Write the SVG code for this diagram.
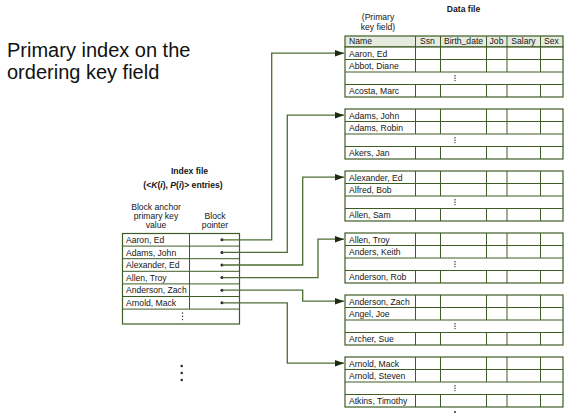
<svg xmlns="http://www.w3.org/2000/svg" width="569" height="415" viewBox="0 0 569 415">
<defs>
<style>
text{font-family:"Liberation Sans",Arial,sans-serif;fill:#161616;font-size:8.6px}
.b{font-weight:bold}
.c{text-anchor:middle}
.title{font-size:20px;fill:#111}
.tb{fill:#fff;stroke:#3f5c25;stroke-width:1.2}
.ln{stroke:#3f5c25;stroke-width:1;fill:none}
.hd{fill:#e6ebdf;stroke:#3f5c25;stroke-width:1.2}
.con{stroke:#4d6d33;stroke-width:1.3;fill:none;marker-end:url(#ah)}
.dot{fill:#1e1e1e}
</style>
<marker id="ah" markerWidth="10" markerHeight="8" refX="9" refY="4" orient="auto" markerUnits="userSpaceOnUse">
<path d="M0,0.8 L9,4 L0,7.2 Z" fill="#1e2a14"/>
</marker>
</defs>
<rect width="569" height="415" fill="#fff"/>

<g id="title">
<text class="title" x="7" y="57">Primary index on the</text>
<text class="title" x="7" y="79">ordering key field</text>
</g>

<g id="data-labels">
<text class="b c" x="463.5" y="11.5">Data file</text>
<text class="c" x="378" y="19.5">(Primary</text>
<text class="c" x="378" y="29.5">key field)</text>
</g>

<g id="data-header">
<rect class="hd" x="345" y="36" width="218" height="11"/>
<path class="ln" d="M415.5,36V47M440.5,36V47M486.5,36V47M507,36V47M540.5,36V47"/>
<text x="349" y="43.6">Name</text>
<text class="c" x="427.5" y="43.6">Ssn</text>
<text class="c" x="463.5" y="43.6">Birth<tspan dy="-0.4">_</tspan><tspan dy="0.4">date</tspan></text>
<text class="c" x="496.5" y="43.6">Job</text>
<text class="c" x="523.5" y="43.6">Salary</text>
<text class="c" x="551.5" y="43.6">Sex</text>
</g>

<g id="block1" transform="translate(0,47)">
<rect class="tb" x="345" y="0" width="218" height="50"/>
<path class="ln" d="M345,12.5H563M345,25H563M345,37.5H563M415.5,0V25M440.5,0V25M486.5,0V25M507,0V25M540.5,0V25M415.5,37.5V50M440.5,37.5V50M486.5,37.5V50M507,37.5V50M540.5,37.5V50"/>
<circle class="dot" cx="455" cy="28.8" r="0.7"/><circle class="dot" cx="455" cy="31.2" r="0.7"/><circle class="dot" cx="455" cy="33.6" r="0.7"/>
<text x="349" y="9.5">Aaron, Ed</text>
<text x="349" y="22">Abbot, Diane</text>
<text x="349" y="47">Acosta, Marc</text>
</g>

<g id="block2" transform="translate(0,109)">
<rect class="tb" x="345" y="0" width="218" height="50"/>
<path class="ln" d="M345,12.5H563M345,25H563M345,37.5H563M415.5,0V25M440.5,0V25M486.5,0V25M507,0V25M540.5,0V25M415.5,37.5V50M440.5,37.5V50M486.5,37.5V50M507,37.5V50M540.5,37.5V50"/>
<circle class="dot" cx="455" cy="28.8" r="0.7"/><circle class="dot" cx="455" cy="31.2" r="0.7"/><circle class="dot" cx="455" cy="33.6" r="0.7"/>
<text x="349" y="9.5">Adams, John</text>
<text x="349" y="22">Adams, Robin</text>
<text x="349" y="47">Akers, Jan</text>
</g>

<g id="block3" transform="translate(0,171)">
<rect class="tb" x="345" y="0" width="218" height="50"/>
<path class="ln" d="M345,12.5H563M345,25H563M345,37.5H563M415.5,0V25M440.5,0V25M486.5,0V25M507,0V25M540.5,0V25M415.5,37.5V50M440.5,37.5V50M486.5,37.5V50M507,37.5V50M540.5,37.5V50"/>
<circle class="dot" cx="455" cy="28.8" r="0.7"/><circle class="dot" cx="455" cy="31.2" r="0.7"/><circle class="dot" cx="455" cy="33.6" r="0.7"/>
<text x="349" y="9.5">Alexander, Ed</text>
<text x="349" y="22">Alfred, Bob</text>
<text x="349" y="47">Allen, Sam</text>
</g>

<g id="block4" transform="translate(0,233)">
<rect class="tb" x="345" y="0" width="218" height="50"/>
<path class="ln" d="M345,12.5H563M345,25H563M345,37.5H563M415.5,0V25M440.5,0V25M486.5,0V25M507,0V25M540.5,0V25M415.5,37.5V50M440.5,37.5V50M486.5,37.5V50M507,37.5V50M540.5,37.5V50"/>
<circle class="dot" cx="455" cy="28.8" r="0.7"/><circle class="dot" cx="455" cy="31.2" r="0.7"/><circle class="dot" cx="455" cy="33.6" r="0.7"/>
<text x="349" y="9.5">Allen, Troy</text>
<text x="349" y="22">Anders, Keith</text>
<text x="349" y="47">Anderson, Rob</text>
</g>

<g id="block5" transform="translate(0,295)">
<rect class="tb" x="345" y="0" width="218" height="50"/>
<path class="ln" d="M345,12.5H563M345,25H563M345,37.5H563M415.5,0V25M440.5,0V25M486.5,0V25M507,0V25M540.5,0V25M415.5,37.5V50M440.5,37.5V50M486.5,37.5V50M507,37.5V50M540.5,37.5V50"/>
<circle class="dot" cx="455" cy="28.8" r="0.7"/><circle class="dot" cx="455" cy="31.2" r="0.7"/><circle class="dot" cx="455" cy="33.6" r="0.7"/>
<text x="349" y="9.5">Anderson, Zach</text>
<text x="349" y="22">Angel, Joe</text>
<text x="349" y="47">Archer, Sue</text>
</g>

<g id="block6" transform="translate(0,357)">
<rect class="tb" x="345" y="0" width="218" height="50"/>
<path class="ln" d="M345,12.5H563M345,25H563M345,37.5H563M415.5,0V25M440.5,0V25M486.5,0V25M507,0V25M540.5,0V25M415.5,37.5V50M440.5,37.5V50M486.5,37.5V50M507,37.5V50M540.5,37.5V50"/>
<circle class="dot" cx="455" cy="28.8" r="0.7"/><circle class="dot" cx="455" cy="31.2" r="0.7"/><circle class="dot" cx="455" cy="33.6" r="0.7"/>
<text x="349" y="9.5">Arnold, Mack</text>
<text x="349" y="22">Arnold, Steven</text>
<text x="349" y="47">Atkins, Timothy</text>
</g>

<g id="data-more">
<circle class="dot" cx="455" cy="412" r="0.9"/>
</g>

<g id="index-labels">
<text class="b c" x="189.5" y="173.5">Index file</text>
<text class="b c" x="183" y="187.5">(&lt;<tspan font-style="italic">K</tspan>(<tspan font-style="italic">i</tspan>), <tspan font-style="italic">P</tspan>(<tspan font-style="italic">i</tspan>)&gt; entries)</text>
<text class="c" x="156" y="210">Block anchor</text>
<text class="c" x="156" y="219">primary key</text>
<text class="c" x="156" y="228">value</text>
<text class="c" x="215" y="219">Block</text>
<text class="c" x="215" y="228">pointer</text>
</g>

<g id="index-table">
<rect class="tb" x="122.5" y="233.5" width="117" height="90.5"/>
<path class="ln" d="M122.5,246.1H239.5M122.5,258.7H239.5M122.5,271.3H239.5M122.5,283.9H239.5M122.5,296.5H239.5M122.5,309.1H239.5M189.5,233.5V309.1"/>
<text x="126" y="243">Aaron, Ed</text>
<text x="126" y="255.6">Adams, John</text>
<text x="126" y="268.2">Alexander, Ed</text>
<text x="126" y="280.8">Allen, Troy</text>
<text x="126" y="293.4">Anderson, Zach</text>
<text x="126" y="306">Arnold, Mack</text>
<circle class="dot" cx="222" cy="239.8" r="1.5"/>
<circle class="dot" cx="222" cy="252.4" r="1.5"/>
<circle class="dot" cx="222" cy="265" r="1.5"/>
<circle class="dot" cx="222" cy="277.6" r="1.5"/>
<circle class="dot" cx="222" cy="290.2" r="1.5"/>
<circle class="dot" cx="222" cy="302.8" r="1.5"/>
<circle class="dot" cx="182.5" cy="313" r="0.7"/><circle class="dot" cx="182.5" cy="316.3" r="0.7"/><circle class="dot" cx="182.5" cy="319.6" r="0.7"/>
</g>

<g id="index-more">
<circle class="dot" cx="181.7" cy="366" r="1.2"/>
<circle class="dot" cx="181.7" cy="373" r="1.2"/>
<circle class="dot" cx="181.7" cy="380" r="1.2"/>
</g>

<g id="connectors">
<path class="con" d="M222,239.8H271.7V53.2H344"/>
<path class="con" d="M222,252.4H287.3V115.2H344"/>
<path class="con" d="M222,265H302.7V177.2H344"/>
<path class="con" d="M222,277.6H318V239.2H344"/>
<path class="con" d="M222,290.2H302.7V301.2H344"/>
<path class="con" d="M222,302.8H287.3V363.2H344"/>
</g>
</svg>
